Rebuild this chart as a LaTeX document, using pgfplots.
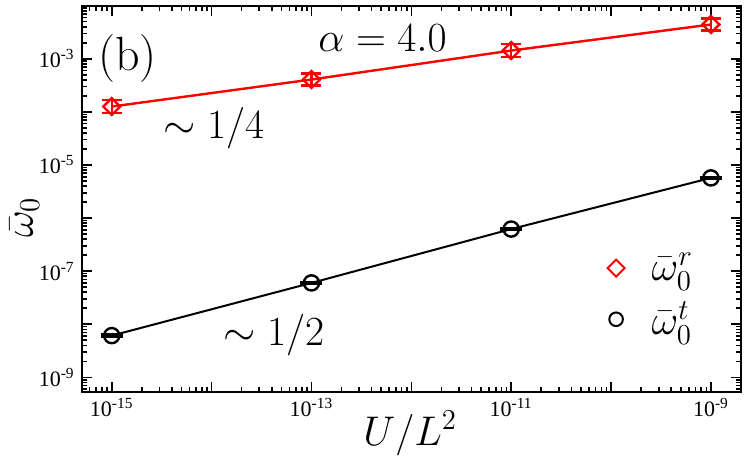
\documentclass[border=0pt]{standalone}
\usepackage{fontspec}
\newfontfamily\tickfont{Liberation Serif}
\usepackage{pgfplots}
\pgfplotsset{compat=1.18}
\def\xminor{6e-16,7e-16,8e-16,9e-16}
\foreach \e in {-15,...,-10}{\foreach \m in {2,...,9}{\xdef\xminor{\xminor,\m e\e}}}
\def\yminor{6e-10,7e-10,8e-10,9e-10}
\foreach \e in {-9,...,-3}{\foreach \m in {2,...,9}{\xdef\yminor{\yminor,\m e\e}}}
\pgfplotstableread{
x y ep em
1e-15 1.26e-4 0.41e-4 0.31e-4
1e-13 4.07e-4 1.18e-4 0.92e-4
1e-11 1.43e-3 0.46e-3 0.35e-3
1e-9 4.43e-3 1.28e-3 0.99e-3
}\redtab
\pgfplotstableread{
x y ep em
1e-15 6.1e-9 0.25e-9 0.25e-9
1e-13 6.0e-8 0.25e-8 0.25e-8
1e-11 6.2e-7 0.25e-7 0.25e-7
1e-9 5.7e-6 0.23e-6 0.23e-6
}\blacktab
\begin{document}
\begin{tikzpicture}
\begin{axis}[
  at={(0pt,0pt)}, anchor=south west,
  scale only axis, width=329.65pt, height=192.9pt,
  xmode=log, ymode=log,
  xmin=5e-16, xmax=2e-9, ymin=5.4e-10, ymax=1e-2,
  xtick={1e-15,1e-14,1e-13,1e-12,1e-11,1e-10,1e-9},
  xticklabels={10\textsuperscript{-15},,10\textsuperscript{-13},,10\textsuperscript{-11},,10\textsuperscript{-9}},
  ytick={1e-9,1e-8,1e-7,1e-6,1e-5,1e-4,1e-3},
  yticklabels={10\textsuperscript{-9},,10\textsuperscript{-7},,10\textsuperscript{-5},,10\textsuperscript{-3}},
  minor xtick/.expanded={\xminor},
  minor ytick/.expanded={\yminor},
  tick align=inside,
  major tick length=5pt, minor tick length=2.5pt,
  every tick/.style={line width=0.8pt, black},
  axis line style={line width=1pt},
  every tick label/.append style={font=\tickfont\fontsize{11}{13}\selectfont},
  legend style={draw=none, fill=none, at={(0.788,0.381)}, anchor=north west,
    font=\fontsize{21}{25}\selectfont, row sep=5pt},
  legend cell align=left,
]
\addlegendimage{legend image code/.code={\path (0pt,0pt) (15.5pt,0pt);
  \draw[red, line width=1pt] plot[mark=square, mark size=3pt, mark options={rotate=45}] coordinates {(0pt,0pt)};}}
\addlegendentry{$\bar\omega_0^r$}
\addlegendimage{legend image code/.code={\path (0pt,0pt) (15.5pt,0pt);
  \draw[black, line width=1pt] plot[mark=o, mark size=3.4pt] coordinates {(0pt,0pt)};}}
\addlegendentry{$\bar\omega_0^t$}
\addplot[forget plot, red, line width=1.2pt, mark=square, mark size=3pt,
  mark options={solid, line width=1.2pt, rotate=45},
  error bars/.cd, y dir=both, y explicit,
  error bar style={line width=1.2pt, red},
  error mark options={rotate=90, red, line width=1.2pt, mark size=5pt}]
  table[x=x, y=y, y error plus=ep, y error minus=em]{\redtab};
\addplot[forget plot, black, line width=1pt, mark=o, mark size=3.8pt,
  mark options={solid, line width=1.2pt},
  error bars/.cd, y dir=both, y explicit,
  error bar style={line width=1.2pt, black},
  error mark options={rotate=90, black, line width=1.2pt, mark size=5.5pt}]
  table[x=x, y=y, y error plus=ep, y error minus=em]{\blacktab};
\end{axis}
\node[anchor=base west, font=\fontsize{24}{28}\selectfont, inner sep=0pt] at (8.15pt,160.75pt) {(b)};
\node[anchor=base west, font=\fontsize{21.5}{25}\selectfont, inner sep=0pt] at (118.15pt,169.9pt) {$\alpha = 4.0$};
\node[anchor=base west, font=\fontsize{22}{26}\selectfont, inner sep=0pt] at (40.65pt,126.75pt) {$\sim 1/4$};
\node[anchor=base west, font=\fontsize{22.5}{26}\selectfont, inner sep=0pt] at (70.65pt,23.25pt) {$\sim 1/2$};
\node[anchor=base west, font=\fontsize{19.5}{23}\selectfont, inner sep=0pt] at (140.65pt,-26.75pt) {$U/L^2$};
\node[anchor=base west, rotate=90, font=\fontsize{20}{24}\selectfont, inner sep=0pt] at (-24.35pt,76.75pt) {$\bar\omega_0$};
\pgfresetboundingbox
\useasboundingbox (-40.85pt,-35.25pt) rectangle (333.15pt,195.75pt);
\end{tikzpicture}
\end{document}
